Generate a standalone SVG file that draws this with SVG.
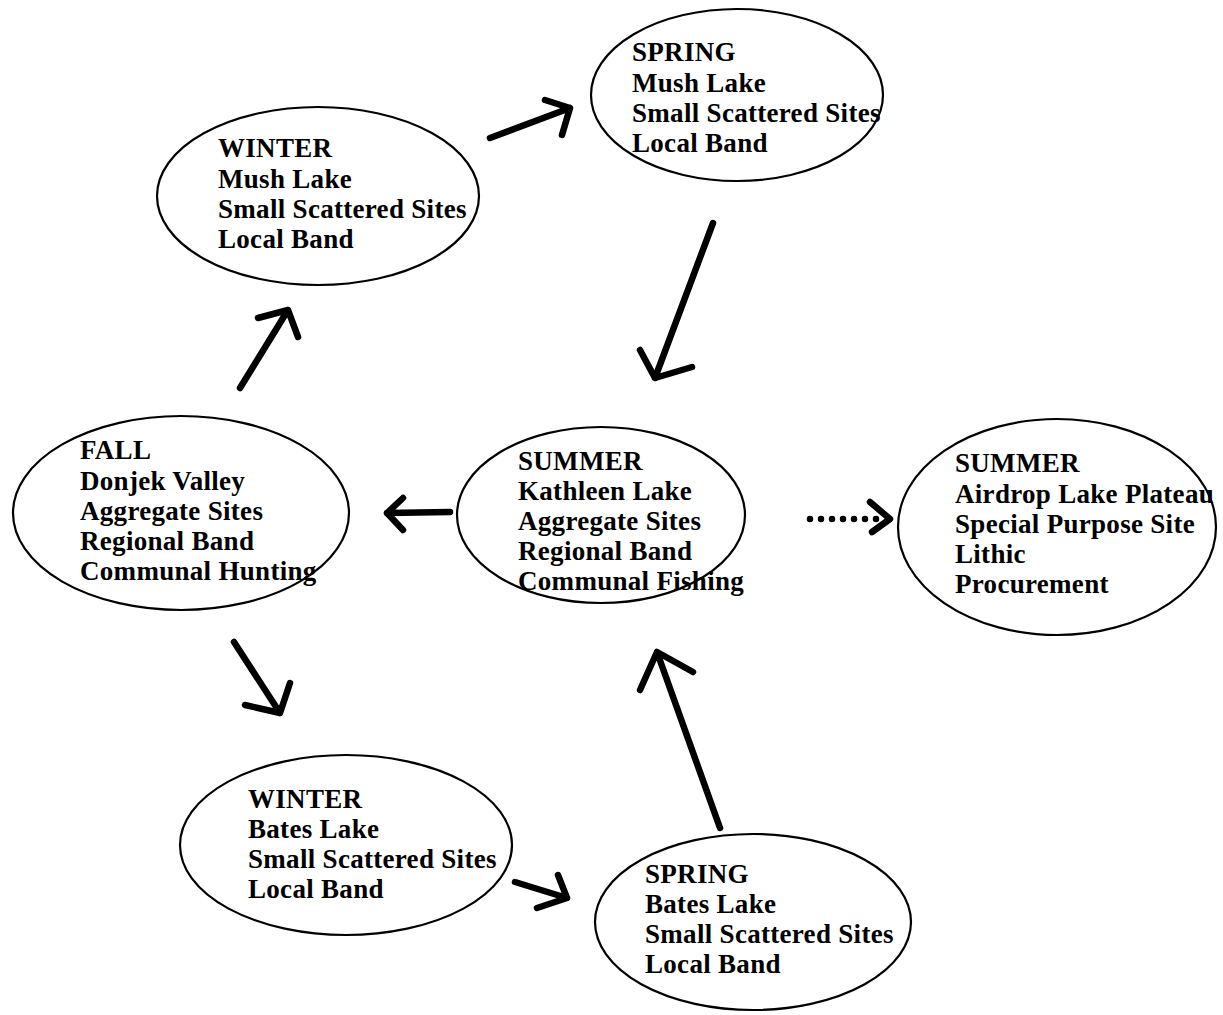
<svg xmlns="http://www.w3.org/2000/svg" width="1223" height="1015" viewBox="0 0 1223 1015">
<style>
.node ellipse{fill:#fff;stroke:#000;stroke-width:2.2}
.node text{font-family:"Liberation Serif","Times New Roman",serif;font-weight:bold;font-size:27px;fill:#000;letter-spacing:0.3px}
.conn path{fill:none;stroke:#000;stroke-width:6.5;stroke-linecap:round;stroke-linejoin:round}
.conn .dot{stroke-dasharray:0 11}
</style>
<rect width="1223" height="1015" fill="#fff"/>
<g id="winter-mush" class="node">
<ellipse cx="318" cy="196" rx="161" ry="89"/>
<text x="218" y="157">WINTER</text>
<text x="218" y="188">Mush Lake</text>
<text x="218" y="218">Small Scattered Sites</text>
<text x="218" y="248">Local Band</text>
</g>
<g id="spring-mush" class="node">
<ellipse cx="737" cy="95" rx="146" ry="86"/>
<text x="632" y="61">SPRING</text>
<text x="632" y="92">Mush Lake</text>
<text x="632" y="122">Small Scattered Sites</text>
<text x="632" y="152">Local Band</text>
</g>
<g id="fall" class="node">
<ellipse cx="181" cy="513" rx="168" ry="97"/>
<text x="80" y="459">FALL</text>
<text x="80" y="490">Donjek Valley</text>
<text x="80" y="520">Aggregate Sites</text>
<text x="80" y="550">Regional Band</text>
<text x="80" y="580">Communal Hunting</text>
</g>
<g id="summer-kathleen" class="node">
<ellipse cx="601" cy="515" rx="144" ry="88"/>
<text x="518" y="470">SUMMER</text>
<text x="518" y="500">Kathleen Lake</text>
<text x="518" y="530">Aggregate Sites</text>
<text x="518" y="560">Regional Band</text>
<text x="518" y="590">Communal Fishing</text>
</g>
<g id="summer-airdrop" class="node">
<ellipse cx="1057" cy="527" rx="159" ry="108"/>
<text x="955" y="472">SUMMER</text>
<text x="955" y="503">Airdrop Lake Plateau</text>
<text x="955" y="533">Special Purpose Site</text>
<text x="955" y="563">Lithic</text>
<text x="955" y="593">Procurement</text>
</g>
<g id="winter-bates" class="node">
<ellipse cx="346" cy="845" rx="166" ry="90"/>
<text x="248" y="808">WINTER</text>
<text x="248" y="838">Bates Lake</text>
<text x="248" y="868">Small Scattered Sites</text>
<text x="248" y="898">Local Band</text>
</g>
<g id="spring-bates" class="node">
<ellipse cx="753" cy="922" rx="158" ry="88"/>
<text x="645" y="883">SPRING</text>
<text x="645" y="913">Bates Lake</text>
<text x="645" y="943">Small Scattered Sites</text>
<text x="645" y="973">Local Band</text>
</g>
<g id="connectors" class="conn">
<path d="M490 138 L570 108 M545 100 L570 108 L562 135"/>
<path d="M713 223 L655 378 M640 350 L655 378 L692 367"/>
<path d="M240 388 L288 310 M258 318 L288 310 L298 337"/>
<path d="M450 512 L387 513 M403 498 L387 513 L403 530"/>
<path class="dot" d="M810 519 L880 519"/>
<path d="M870 502 L890 519 L872 532"/>
<path d="M234 642 L280 713 M245 705 L280 713 L290 683"/>
<path d="M515 882 L567 898 M558 875 L567 898 L537 908"/>
<path d="M720 828 L657 652 M640 690 L657 652 L693 672"/>
</g>
</svg>
